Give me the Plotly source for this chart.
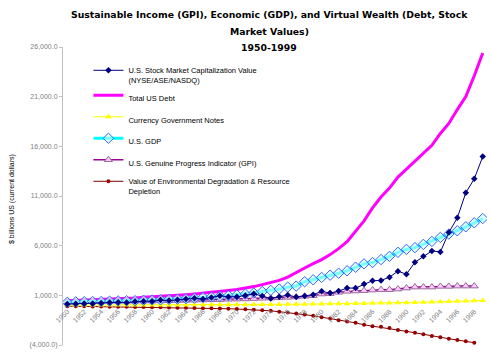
import plotly.graph_objects as go

years = list(range(1950, 2000))

stock_market_cap = [120, 150, 170, 170, 240, 290, 310, 270, 370, 410,
                    410, 520, 470, 550, 620, 700, 640, 790, 950, 850,
                    850, 990, 1150, 930, 680, 860, 1030, 830, 930, 1070,
                    1400, 1230, 1430, 1730, 1730, 2130, 2470, 2500, 2830, 3430,
                    3130, 4330, 4930, 5470, 5370, 7330, 8800, 11330, 12730, 14970]

total_debt = [450, 480, 520, 560, 590, 640, 670, 700, 740, 800,
              840, 880, 940, 1000, 1070, 1140, 1210, 1290, 1390, 1490,
              1580, 1720, 1880, 2080, 2290, 2500, 2830, 3250, 3750, 4200,
              4600, 5100, 5700, 6400, 7400, 8500, 9800, 10900, 11800, 12900,
              13700, 14500, 15200, 16100, 17300, 18300, 19700, 21000, 23100, 25400]

currency_notes = [27, 27, 28, 29, 29, 29, 30, 30, 31, 31,
                  32, 33, 35, 37, 39, 42, 44, 47, 50, 54,
                  58, 62, 67, 72, 79, 86, 93, 102, 114, 125,
                  134, 142, 152, 165, 178, 190, 205, 222, 237, 250,
                  262, 277, 298, 325, 355, 375, 400, 428, 455, 480]

us_gdp = [294, 339, 358, 379, 380, 415, 438, 461, 467, 507,
          526, 545, 586, 618, 664, 719, 788, 833, 910, 985,
          1039, 1127, 1238, 1383, 1500, 1638, 1825, 1930, 2370, 2570,
          2800, 3030, 3230, 3470, 3830, 4170, 4300, 4600, 4930, 5330,
          5630, 5800, 6130, 6430, 6830, 7170, 7500, 7900, 8300, 8730]

us_gpi = [330, 340, 350, 360, 370, 380, 390, 395, 400, 410,
          420, 430, 450, 470, 490, 510, 530, 550, 570, 600,
          620, 640, 670, 700, 720, 750, 790, 830, 900, 970,
          1130, 1170, 1300, 1400, 1430, 1470, 1530, 1570, 1570, 1630,
          1730, 1830, 1830, 1830, 1900, 1900, 1930, 1930, 1930, None]

env_degradation = [-90, -100, -110, -120, -130, -140, -150, -160, -170, -180,
                   -200, -210, -220, -240, -250, -270, -290, -310, -330, -350,
                   -380, -410, -450, -500, -560, -650, -740, -830, -930, -1050,
                   -1200, -1330, -1500, -1630, -1770, -1970, -2100, -2170, -2300, -2500,
                   -2630, -2770, -2930, -3100, -3230, -3370, -3500, -3630, -3770, None]

title_lines = ["Sustainable Income (GPI), Economic (GDP), and Virtual Wealth (Debt, Stock",
               "Market Values)",
               "1950-1999"]

y_tick_values = [-4000, 1000, 6000, 11000, 16000, 21000, 26000]
y_range = [-4000, 26000]
x_tick_years = years[::2]


def fmt(v):
    s = f"{abs(v):,.1f}"
    return f"({s})" if v < 0 else s


y_tick_text = [fmt(v) for v in y_tick_values]

FONT = "Arial, Liberation Sans, sans-serif"
TITLE_FONT = "DejaVu Sans, Verdana, sans-serif"

fig = go.Figure()

fig.add_trace(go.Scatter(
    x=years, y=total_debt, name="Total US Debt", mode="lines",
    line=dict(color="#FF00FF", width=3), legendrank=2, legendgroup="b"))
fig.add_trace(go.Scatter(
    x=years, y=env_degradation,
    name="Value of Environmental Degradation & Resource<br>Depletion",
    mode="lines+markers", line=dict(color="#800000", width=1),
    marker=dict(symbol="circle", size=4, color="#990000"), legendrank=6, legendgroup="f"))
fig.add_trace(go.Scatter(
    x=years, y=currency_notes, name="Currency Government Notes",
    mode="lines+markers", line=dict(color="#FFFF00", width=1),
    marker=dict(symbol="triangle-up", size=6, color="#FFFF00"), legendrank=3, legendgroup="c"))
fig.add_trace(go.Scatter(
    x=years, y=us_gpi, name="U.S. Genuine Progress Indicator (GPI)",
    mode="lines+markers", line=dict(color="#990099", width=1.5),
    marker=dict(symbol="triangle-up", size=7, color="#FFCCFF",
                line=dict(color="#996699", width=1)), legendrank=5, legendgroup="e"))
fig.add_trace(go.Scatter(
    x=years, y=us_gdp, name="U.S. GDP",
    mode="lines+markers", line=dict(color="#00FFFF", width=3),
    marker=dict(symbol="diamond", size=8, color="rgba(204,255,255,0.6)",
                line=dict(color="#3366FF", width=1)), legendrank=4, legendgroup="d"))
fig.add_trace(go.Scatter(
    x=years, y=stock_market_cap,
    name="U.S. Stock Market Capitalization Value<br>(NYSE/ASE/NASDQ)",
    mode="lines+markers", line=dict(color="#000080", width=1),
    marker=dict(symbol="diamond", size=5, color="#000080"), legendrank=1, legendgroup="a"))

zero_pos = (0 - y_range[0]) / (y_range[1] - y_range[0])

plot_top, plot_h = 47, 298
title_px = [15, 31, 47]
annotations = [dict(text=f"<b>{t}</b>", xref="paper", yref="paper",
                    x=(269 - 63) / 424, y=(plot_top + plot_h - py) / plot_h,
                    xanchor="center", yanchor="middle", showarrow=False,
                    font=dict(family=TITLE_FONT, size=9.3, color="black"))
               for t, py in zip(title_lines, title_px)]
annotations.append(dict(text="$ billions US (current dollars)", textangle=-90,
                        xref="paper", yref="paper", x=(12 - 63) / 424, y=0.49,
                        xanchor="center", yanchor="middle", showarrow=False,
                        font=dict(size=7, color="black", family=FONT)))

fig.update_layout(
    width=491, height=352,
    margin=dict(l=63, r=4, t=47, b=7),
    paper_bgcolor="white", plot_bgcolor="white",
    font=dict(family=FONT, size=7.5, color="black"),
    showlegend=True,
    legend=dict(x=0.06, y=0.96, xanchor="left", yanchor="top",
                bgcolor="rgba(0,0,0,0)", font=dict(size=7.5, family=FONT),
                tracegroupgap=2.5, valign="top", itemwidth=30),
    xaxis=dict(range=[1949.5, 1999.5], tickvals=x_tick_years,
               ticktext=[str(y) for y in x_tick_years], tickangle=-45,
               tickfont=dict(size=7, color="#808080"),
               anchor="free", position=zero_pos,
               showline=False, showgrid=False, zeroline=False,
               ticks="", automargin=False),
    yaxis=dict(range=y_range, tickvals=y_tick_values, ticktext=y_tick_text,
               tickfont=dict(size=7, color="#808080"),
               showline=True, linecolor="#C0C0C0", linewidth=1,
               ticks="outside", ticklen=3, tickcolor="#C0C0C0",
               showgrid=False, zeroline=False, automargin=False),
    annotations=annotations,
)

fig.write_html("out.html")
